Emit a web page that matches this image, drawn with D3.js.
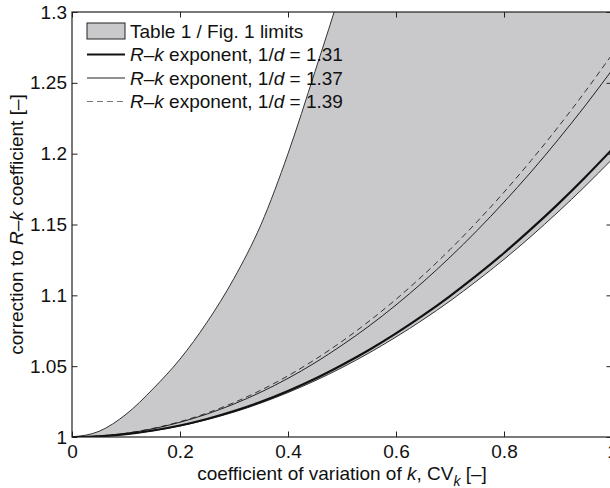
<!DOCTYPE html>
<html><head><meta charset="utf-8">
<script src="https://cdn.jsdelivr.net/npm/d3@7"></script>
<style>
body{margin:0;background:#fff}
svg text{font-family:"Liberation Sans",Arial,Helvetica,sans-serif;fill:#111}
</style>
</head><body>
<svg id="chart" width="610" height="488"></svg>
<script>
// ---- data ----
const cvK = [0,0.05,0.1,0.15,0.2,0.25,0.3,0.35,0.4,0.45,0.5,0.55,0.6,0.65,0.7,0.75,0.8,0.85,0.9,0.95,1];
const limitLower = [1,1.0005,1.002,1.0044,1.0078,1.0123,1.0176,1.024,1.0314,1.0397,1.049,1.0593,1.0706,1.0828,1.096,1.1103,1.1254,1.1416,1.1588,1.1769,1.196];
const limitUpper = [1,1.004,1.016,1.034,1.055,1.081,1.112,1.150,1.200,1.258,1.318,1.385,1.46,1.54,1.63,1.72,1.82,1.92,2.03,2.14,2.26];
const exp131 = [1,1.0005,1.002,1.0046,1.0081,1.0127,1.0183,1.0249,1.0325,1.0411,1.0508,1.0614,1.0731,1.0858,1.0995,1.1142,1.1299,1.1467,1.1644,1.1832,1.203];
const exp137 = [1,1.0006,1.0026,1.0058,1.0104,1.0162,1.0233,1.0317,1.0414,1.0524,1.0648,1.0783,1.0932,1.1094,1.1269,1.1457,1.1658,1.1871,1.2098,1.2337,1.259];
const exp139 = [1,1.0007,1.0027,1.0061,1.0108,1.0169,1.0243,1.0331,1.0432,1.0547,1.0675,1.0817,1.0972,1.1141,1.1323,1.1519,1.1728,1.1951,1.2187,1.2437,1.270];
const xTicks = [0,0.2,0.4,0.6,0.8,1];
const xTickLabels = ["0","0.2","0.4","0.6","0.8","1"];
const yTicks = [1,1.05,1.1,1.15,1.2,1.25,1.3];
const yTickLabels = ["1","1.05","1.1","1.15","1.2","1.25","1.3"];
const exponentLabels = ["1.31","1.37","1.39"];

// ---- layout ----
const L = 72, R = 612, T = 12, B = 437;
const FS = 19;
const svg = d3.select("#chart");
const x = d3.scaleLinear().domain([0,1]).range([L,R]);
const y = d3.scaleLinear().domain([1,1.3]).range([B,T]);

svg.append("defs").append("clipPath").attr("id","clip")
  .append("rect").attr("x",L).attr("y",T).attr("width",R-L).attr("height",B-T);

const plot = svg.append("g").attr("clip-path","url(#clip)");
const pts = cvK.map((v,i)=>({x:v, lo:limitLower[i], hi:limitUpper[i], a:exp131[i], b:exp137[i], c:exp139[i]}));

plot.append("path").datum(pts)
  .attr("d", d3.area().x(d=>x(d.x)).y0(d=>y(d.lo)).y1(d=>y(d.hi)).curve(d3.curveMonotoneX))
  .attr("fill","#c9c9cb").attr("stroke","none");
const mk = key => d3.line().x(d=>x(d.x)).y(d=>y(d[key])).curve(d3.curveMonotoneX);
plot.append("path").datum(pts).attr("d",mk("hi")).attr("fill","none").attr("stroke","#333").attr("stroke-width",1);
plot.append("path").datum(pts).attr("d",mk("lo")).attr("fill","none").attr("stroke","#333").attr("stroke-width",1);
plot.append("path").datum(pts).attr("d",mk("c")).attr("fill","none").attr("stroke","#333").attr("stroke-width",1).attr("stroke-dasharray","6,4");
plot.append("path").datum(pts).attr("d",mk("b")).attr("fill","none").attr("stroke","#222").attr("stroke-width",1);
plot.append("path").datum(pts).attr("d",mk("a")).attr("fill","none").attr("stroke","#111").attr("stroke-width",2.2);

// ---- axes ----
const tickLen = 5.5;
const gx = svg.append("g").attr("transform",`translate(0,${B})`)
  .call(d3.axisBottom(x).tickValues(xTicks).tickFormat((d,i)=>xTickLabels[i]).tickSizeInner(-tickLen).tickSizeOuter(0).tickPadding(7.5));
const gy = svg.append("g").attr("transform",`translate(${L},0)`)
  .call(d3.axisLeft(y).tickValues(yTicks).tickFormat((d,i)=>yTickLabels[i]).tickSizeInner(-tickLen).tickSizeOuter(0).tickPadding(5));
const gt = svg.append("g").attr("transform",`translate(0,${T})`)
  .call(d3.axisTop(x).tickValues(xTicks).tickFormat("").tickSizeInner(-tickLen).tickSizeOuter(0));
const gr = svg.append("g").attr("transform",`translate(${R},0)`)
  .call(d3.axisRight(y).tickValues(yTicks).tickFormat("").tickSizeInner(-tickLen).tickSizeOuter(0));
[gx,gy,gt,gr].forEach(g=>{
  g.select(".domain").remove();
  g.selectAll("line").attr("stroke","#222").attr("stroke-width",1);
  g.selectAll("text").attr("font-size",FS).attr("fill","#111")
   .style("font-family","'Liberation Sans',Arial,Helvetica,sans-serif");
});
svg.append("rect").attr("x",L).attr("y",T).attr("width",R-L).attr("height",B-T)
  .attr("fill","none").attr("stroke","#222").attr("stroke-width",1.2);

// ---- axis titles ----
const xt = svg.append("text").attr("x",(L+R)/2).attr("y",480).attr("text-anchor","middle").attr("font-size",FS);
xt.append("tspan").text("coefficient of variation of ");
xt.append("tspan").attr("font-style","italic").text("k");
xt.append("tspan").text(", CV");
xt.append("tspan").attr("font-style","italic").attr("font-size",14).attr("dy",6).text("k");
xt.append("tspan").attr("dy",-6).text(" [–]");

const yt = svg.append("text").attr("transform",`translate(23,${(T+B)/2}) rotate(-90)`).attr("text-anchor","middle").attr("font-size",FS);
yt.append("tspan").text("correction to ");
yt.append("tspan").attr("font-style","italic").text("R");
yt.append("tspan").text("–");
yt.append("tspan").attr("font-style","italic").text("k");
yt.append("tspan").text(" coefficient [–]");

// ---- legend ----
const lg = svg.append("g");
const rowY = [31, 54.5, 78, 101.5];
const sx0 = 87, sx1 = 125, tx = 130;
lg.append("rect").attr("x",sx0).attr("y",rowY[0]-8).attr("width",sx1-sx0).attr("height",16)
  .attr("fill","#c9c9cb").attr("stroke","#222").attr("stroke-width",1);
lg.append("text").attr("x",tx).attr("y",rowY[0]).attr("dy","0.35em").attr("font-size",FS).text("Table 1 / Fig. 1 limits");
const styles = [{w:2.2,c:"#111",dash:null},{w:1,c:"#222",dash:null},{w:1,c:"#777",dash:"6,4"}];
exponentLabels.forEach((lab,i)=>{
  const yy = rowY[i+1];
  lg.append("line").attr("x1",sx0).attr("x2",sx1).attr("y1",yy).attr("y2",yy)
    .attr("stroke",styles[i].c).attr("stroke-width",styles[i].w).attr("stroke-dasharray",styles[i].dash);
  const t = lg.append("text").attr("x",tx).attr("y",yy).attr("dy","0.35em").attr("font-size",FS);
  t.append("tspan").attr("font-style","italic").text("R");
  t.append("tspan").text("–");
  t.append("tspan").attr("font-style","italic").text("k");
  t.append("tspan").text(" exponent, 1/");
  t.append("tspan").attr("font-style","italic").text("d");
  t.append("tspan").text(" = " + lab);
});
</script>
</body></html>
